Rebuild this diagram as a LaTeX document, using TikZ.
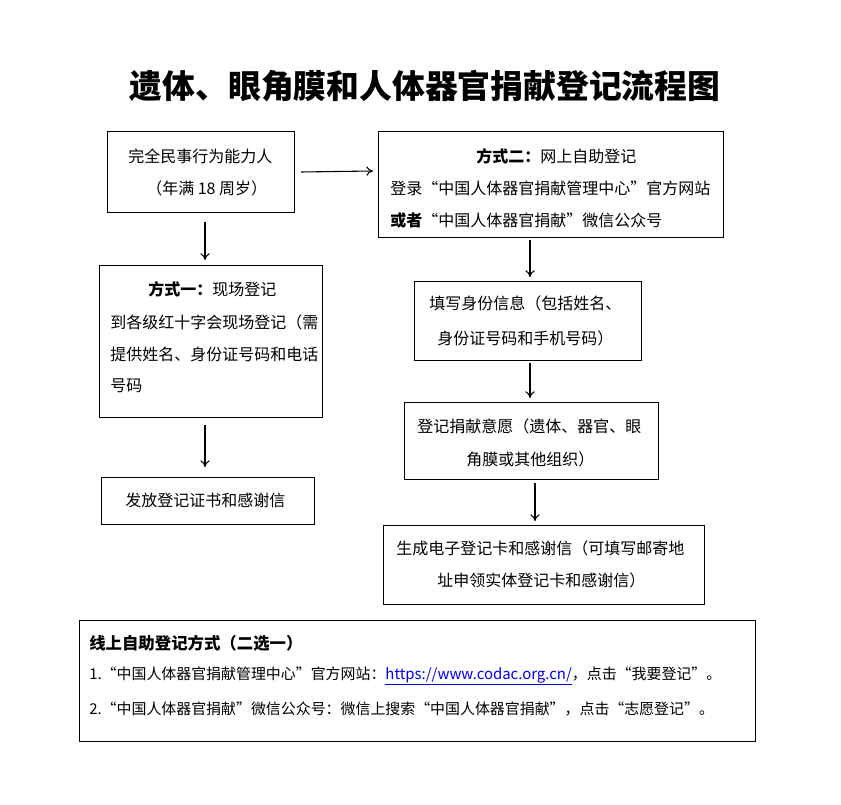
\documentclass[tikz,border=0pt]{standalone}
\usepackage{fontspec}
\setmainfont{Noto Sans CJK SC}
\usetikzlibrary{arrows.meta}
\begin{document}
\begin{tikzpicture}[x=0.75pt,y=-0.75pt,
  box/.style={draw,line width=0.8pt,anchor=north west,inner sep=0pt},
  txt/.style={anchor=west,inner sep=0pt,font=\fontsize{12pt}{14pt}\selectfont},
  arr/.style={line width=0.8pt,-{To[length=5pt,width=7pt]}}]
\useasboundingbox (0,0) rectangle (841,805);
\node[font=\bfseries\fontsize{24.6pt}{28pt}\selectfont] (title) at (425,86) {遗体、眼角膜和人体器官捐献登记流程图};
% boxes
\node[box,minimum width=187*0.75pt,minimum height=81*0.75pt] (b1) at (107,131) {};
\node[box,minimum width=345*0.75pt,minimum height=106*0.75pt] (b2) at (378,131) {};
\node[box,minimum width=223*0.75pt,minimum height=152*0.75pt] (b3) at (99,265) {};
\node[box,minimum width=227*0.75pt,minimum height=79*0.75pt] (b4) at (414,281) {};
\node[box,minimum width=254*0.75pt,minimum height=77*0.75pt] (b5) at (404,402) {};
\node[box,minimum width=213*0.75pt,minimum height=47*0.75pt] (b6) at (101,477) {};
\node[box,minimum width=321*0.75pt,minimum height=79*0.75pt] (b7) at (383,525) {};
\node[box,minimum width=676*0.75pt,minimum height=121*0.75pt] (b8) at (79,620) {};
% texts
\node[txt] (t1a) at (128,156) {完全民事行为能力人};
\node[txt] (t1b) at (146,188) {（年满 18 周岁）};
\node[txt] (t2a) at (476,156) {\textbf{方式二：}网上自助登记};
\node[txt] (t2b) at (390,188) {登录“中国人体器官捐献管理中心”官方网站};
\node[txt] (t2c) at (390,220) {\textbf{或者}“中国人体器官捐献”微信公众号};
\node[txt] (t3a) at (148,289) {\textbf{方式一：}现场登记};
\node[txt] (t3b) at (110,322) {到各级红十字会现场登记（需};
\node[txt] (t3c) at (110,354) {提供姓名、身份证号码和电话};
\node[txt] (t3d) at (110,386) {号码};
\node[txt] (t4a) at (429,303) {填写身份信息（包括姓名、};
\node[txt] (t4b) at (437,338) {身份证号码和手机号码）};
\node[txt] (t5a) at (417,426) {登记捐献意愿（遗体、器官、眼};
\node[txt] (t5b) at (466,459) {角膜或其他组织）};
\node[txt] (t6) at (125,500) {发放登记证书和感谢信};
\node[txt] (t7a) at (396,548) {生成电子登记卡和感谢信（可填写邮寄地};
\node[txt] (t7b) at (437,580) {址申领实体登记卡和感谢信）};
\node[txt,font=\bfseries\fontsize{12.3pt}{14pt}\selectfont] (t8a) at (89,643) {线上自助登记方式（二选一）};
\node[txt,font=\fontsize{11.2pt}{13pt}\selectfont] (t8b) at (89,676) {1.“中国人体器官捐献管理中心”官方网站：{\color[RGB]{0,0,238}\underline{https://www.codac.org.cn/}}，点击“我要登记”。};
\node[txt,font=\fontsize{11.2pt}{13pt}\selectfont] (t8c) at (89,709) {2.“中国人体器官捐献”微信公众号：微信上搜索“中国人体器官捐献”，点击“志愿登记”。};
% arrows
\coordinate (a1s) at (205,222); \coordinate (a1e) at (205,260);
\draw[arr] (a1s) -- (a1e);
\coordinate (a2s) at (301,172); \coordinate (a2e) at (373,171);
\draw[arr] (a2s) -- (a2e);
\coordinate (a3s) at (530,240); \coordinate (a3e) at (530,277);
\draw[arr] (a3s) -- (a3e);
\coordinate (a4s) at (530,363); \coordinate (a4e) at (530,398);
\draw[arr] (a4s) -- (a4e);
\coordinate (a5s) at (205,425); \coordinate (a5e) at (205,467);
\draw[arr] (a5s) -- (a5e);
\coordinate (a6s) at (535,483); \coordinate (a6e) at (535,521);
\draw[arr] (a6s) -- (a6e);
\end{tikzpicture}
\end{document}
